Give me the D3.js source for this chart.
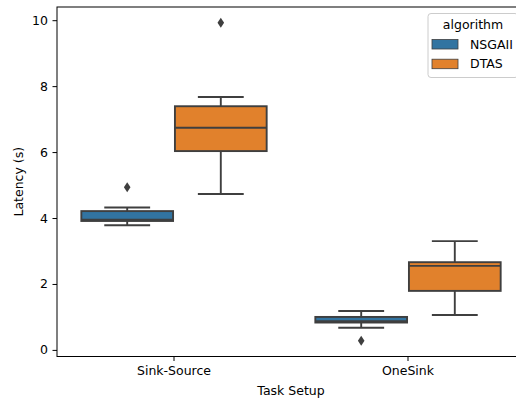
<!DOCTYPE html>
<html>
<head>
<meta charset="utf-8">
<script src="https://cdn.jsdelivr.net/npm/d3@7"></script>
<style>
  html, body { margin: 0; padding: 0; background: #fff; }
  svg { display: block; font-family: "DejaVu Sans", sans-serif; }
</style>
</head>
<body>
<svg id="chart" width="516" height="399"></svg>
<script>
// Task setups on the x axis and the two algorithms compared within each
const categories = ["Sink-Source", "OneSink"];
const algorithms = ["NSGAII", "DTAS"];
const colors = ["#3274a1", "#e1812c"];

// Box statistics per algorithm, one entry per task setup (seconds)
const nsgaiiWhiskerLow  = [3.78, 0.67];
const nsgaiiQ1          = [3.91, 0.83];
const nsgaiiMedian      = [3.95, 0.87];
const nsgaiiQ3          = [4.21, 1.00];
const nsgaiiWhiskerHigh = [4.32, 1.18];
const nsgaiiOutliers    = [[4.93], [0.28]];

const dtasWhiskerLow  = [4.73, 1.06];
const dtasQ1          = [6.03, 1.79];
const dtasMedian      = [6.74, 2.55];
const dtasQ3          = [7.39, 2.66];
const dtasWhiskerHigh = [7.67, 3.30];
const dtasOutliers    = [[9.92], []];

const yTicks = [0, 2, 4, 6, 8, 10];

const series = [
  { name: "NSGAII", lo: nsgaiiWhiskerLow, q1: nsgaiiQ1, med: nsgaiiMedian, q3: nsgaiiQ3, hi: nsgaiiWhiskerHigh, out: nsgaiiOutliers },
  { name: "DTAS",   lo: dtasWhiskerLow,   q1: dtasQ1,   med: dtasMedian,   q3: dtasQ3,   hi: dtasWhiskerHigh,   out: dtasOutliers }
];
const boxes = [];
series.forEach(s => categories.forEach((c, i) => boxes.push({
  cat: c, alg: s.name, lo: s.lo[i], q1: s.q1[i], med: s.med[i], q3: s.q3[i], hi: s.hi[i], out: s.out[i]
})));

const svg = d3.select("#chart");
const plotLeft = 57, plotRight = 525, plotTop = 7, plotBottom = 356.5;
const gray = "#3f3f3f";
const lw = 1.9;
const fontSize = 12.5;

const x = d3.scaleBand().domain(categories).range([plotLeft, plotRight]).paddingInner(0).paddingOuter(0);
const xInner = d3.scaleBand().domain(algorithms).range([x.bandwidth() * 0.1, x.bandwidth() * 0.9]);
const color = d3.scaleOrdinal().domain(algorithms).range(colors);
const y = d3.scaleLinear().domain([-0.2, 10.4]).range([plotBottom, plotTop]);

svg.append("defs").append("clipPath").attr("id", "plot")
  .append("rect").attr("x", plotLeft).attr("y", plotTop)
  .attr("width", plotRight - plotLeft).attr("height", plotBottom - plotTop);

const plot = svg.append("g").attr("clip-path", "url(#plot)");

const bw = xInner.bandwidth() * 0.98;
const g = plot.selectAll("g.box").data(boxes).join("g")
  .attr("transform", d => `translate(${x(d.cat) + xInner(d.alg) + xInner.bandwidth() / 2},0)`);

// whiskers
g.append("line").attr("x1", 0).attr("x2", 0).attr("y1", d => y(d.q3)).attr("y2", d => y(d.hi))
  .attr("stroke", gray).attr("stroke-width", lw);
g.append("line").attr("x1", 0).attr("x2", 0).attr("y1", d => y(d.q1)).attr("y2", d => y(d.lo))
  .attr("stroke", gray).attr("stroke-width", lw);
// caps
g.append("line").attr("x1", -bw / 4).attr("x2", bw / 4).attr("y1", d => y(d.hi)).attr("y2", d => y(d.hi))
  .attr("stroke", gray).attr("stroke-width", lw);
g.append("line").attr("x1", -bw / 4).attr("x2", bw / 4).attr("y1", d => y(d.lo)).attr("y2", d => y(d.lo))
  .attr("stroke", gray).attr("stroke-width", lw);
// box
g.append("rect").attr("x", -bw / 2).attr("width", bw)
  .attr("y", d => y(d.q3)).attr("height", d => y(d.q1) - y(d.q3))
  .attr("fill", d => color(d.alg)).attr("stroke", gray).attr("stroke-width", lw);
// median
g.append("line").attr("x1", -bw / 2).attr("x2", bw / 2).attr("y1", d => y(d.med)).attr("y2", d => y(d.med))
  .attr("stroke", gray).attr("stroke-width", lw);
// outliers (thin diamonds)
g.selectAll("path.out").data(d => d.out).join("path")
  .attr("d", v => `M0,${y(v) - 5} L3.3,${y(v)} L0,${y(v) + 5} L-3.3,${y(v)} Z`)
  .attr("fill", gray);

// axes
const yAxis = svg.append("g").attr("transform", `translate(${plotLeft},0)`)
  .call(d3.axisLeft(y).tickValues(yTicks).tickSize(4.5).tickPadding(4.5).tickFormat(d3.format("d")));
const xAxis = svg.append("g").attr("transform", `translate(0,${plotBottom})`)
  .call(d3.axisBottom(x).tickSize(4.5).tickPadding(5));
[yAxis, xAxis].forEach(a => {
  a.select(".domain").remove();
  a.selectAll(".tick line").attr("stroke", "#000").attr("stroke-width", 1);
  a.selectAll(".tick text").attr("fill", "#000").attr("font-size", fontSize).attr("font-family", "DejaVu Sans");
});

// spines
svg.append("rect").attr("x", plotLeft).attr("y", plotTop)
  .attr("width", plotRight - plotLeft).attr("height", plotBottom - plotTop)
  .attr("fill", "none").attr("stroke", "#000").attr("stroke-width", 1);

// axis titles
svg.append("text").attr("x", (plotLeft + plotRight) / 2).attr("y", 395).attr("text-anchor", "middle")
  .attr("font-size", fontSize).attr("fill", "#000").text("Task Setup");
svg.append("text").attr("transform", `translate(23,${(plotTop + plotBottom) / 2}) rotate(-90)`)
  .attr("text-anchor", "middle").attr("font-size", fontSize).attr("fill", "#000").text("Latency (s)");

// legend
const legend = svg.append("g");
legend.append("rect").attr("x", 428).attr("y", 13.5).attr("width", 90).attr("height", 64).attr("rx", 3)
  .attr("fill", "#fff").attr("fill-opacity", 0.8).attr("stroke", "#cccccc").attr("stroke-width", 1);
legend.append("text").attr("x", 473).attr("y", 29).attr("text-anchor", "middle")
  .attr("font-size", fontSize).attr("fill", "#000").text("algorithm");
const items = legend.selectAll("g.item").data(algorithms).join("g")
  .attr("transform", (d, i) => `translate(0,${i * 19.7})`);
items.append("rect").attr("x", 432).attr("y", 39.5).attr("width", 26).attr("height", 9.5)
  .attr("fill", d => color(d)).attr("stroke", gray).attr("stroke-width", 0.8);
items.append("text").attr("x", 470).attr("y", 48.8).attr("font-size", fontSize).attr("fill", "#000").text(d => d);
</script>
</body>
</html>
